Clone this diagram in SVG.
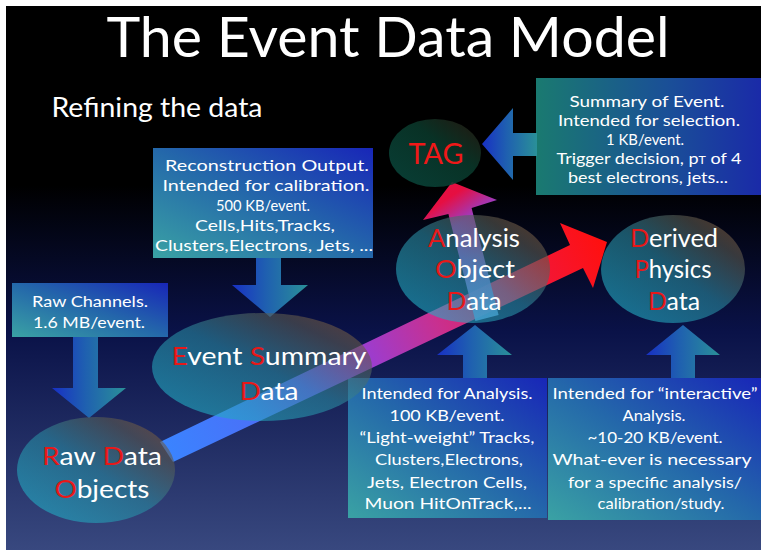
<svg xmlns="http://www.w3.org/2000/svg" width="761" height="551" viewBox="0 0 761 551">
<defs>
<linearGradient id="bg" x1="0" y1="0" x2="0" y2="1">
<stop offset="0" stop-color="#000000"/>
<stop offset="0.33" stop-color="#000000"/>
<stop offset="0.6" stop-color="#0a1248"/>
<stop offset="1" stop-color="#38487f"/>
</linearGradient>
<linearGradient id="boxGrad" x1="0" y1="1" x2="1" y2="0">
<stop offset="0" stop-color="#3aa2a4"/>
<stop offset="0.5" stop-color="#2468aa"/>
<stop offset="1" stop-color="#1826b8"/>
</linearGradient>
<linearGradient id="tagBoxGrad" x1="0" y1="0.5" x2="1" y2="0.5">
<stop offset="0" stop-color="#1a7a70"/>
<stop offset="0.6" stop-color="#1a4e98"/>
<stop offset="1" stop-color="#1a2aa8"/>
</linearGradient>
<linearGradient id="arrGrad" x1="0" y1="0.5" x2="1" y2="0.5">
<stop offset="0" stop-color="#1830c4"/>
<stop offset="0.45" stop-color="#1f60b0"/>
<stop offset="1" stop-color="#2a9098"/>
</linearGradient>
<linearGradient id="ellGrad" x1="0" y1="1" x2="1" y2="0">
<stop offset="0" stop-color="#20bad2"/>
<stop offset="0.5" stop-color="#2a8aa0"/>
<stop offset="0.78" stop-color="#5a5a50"/>
<stop offset="1" stop-color="#9a5a30"/>
</linearGradient>
<linearGradient id="tagEll" x1="0" y1="1" x2="1" y2="0">
<stop offset="0" stop-color="#0a4a40"/>
<stop offset="0.6" stop-color="#0a3a2c"/>
<stop offset="1" stop-color="#2a1a10"/>
</linearGradient>
<linearGradient id="bigGrad" gradientUnits="userSpaceOnUse" x1="166" y1="452" x2="600" y2="240">
<stop offset="0" stop-color="#3a84ff"/>
<stop offset="0.2" stop-color="#4a70f8"/>
<stop offset="0.32" stop-color="#6a50f0"/>
<stop offset="0.42" stop-color="#9040e0"/>
<stop offset="0.62" stop-color="#c83090"/>
<stop offset="0.82" stop-color="#f01840"/>
<stop offset="1" stop-color="#ff1010"/>
</linearGradient>
<linearGradient id="tagArrGrad" gradientUnits="userSpaceOnUse" x1="500" y1="320" x2="425" y2="205">
<stop offset="0" stop-color="#60a8f0"/>
<stop offset="0.55" stop-color="#a050d0"/>
<stop offset="0.75" stop-color="#b040d0"/>
<stop offset="0.95" stop-color="#ff1048"/>
</linearGradient>
<style>
.box{fill:url(#boxGrad)}
.arr{fill:url(#arrGrad)}
.ell{fill:url(#ellGrad);fill-opacity:0.6}
.bt{font-family:Lato,"Open Sans","Liberation Sans",sans-serif;font-size:16px;fill:#ffffff;text-anchor:middle}
.et{font-family:Lato,"Open Sans","Liberation Sans",sans-serif;font-size:25.5px;fill:#ffffff;text-anchor:middle}
.r{fill:#e81818}
</style>
</defs>
<rect x="0" y="0" width="761" height="551" fill="#ffffff"/>
<rect x="6" y="6" width="755" height="544" fill="url(#bg)"/>
<g id="title">
<text x="388" y="57" font-family="Lato,'Open Sans','Liberation Sans',sans-serif" font-size="57" fill="#ffffff" text-anchor="middle" textLength="563" lengthAdjust="spacingAndGlyphs">The Event Data Model</text>
<text x="157" y="117" font-family="Lato,'Open Sans','Liberation Sans',sans-serif" font-size="26" fill="#ffffff" text-anchor="middle" textLength="211" lengthAdjust="spacingAndGlyphs">Refining the data</text>
</g>
<g id="box-esd">
<rect class="box" x="153" y="148" width="220" height="110"/>
<text class="bt" x="267" y="171" textLength="204" lengthAdjust="spacingAndGlyphs">Reconstruction Output.</text>
<text class="bt" x="266" y="191" textLength="207" lengthAdjust="spacingAndGlyphs">Intended for calibration.</text>
<text class="bt" x="263" y="211" textLength="94" lengthAdjust="spacingAndGlyphs">500 KB/event.</text>
<text class="bt" x="265" y="231" textLength="140" lengthAdjust="spacingAndGlyphs">Cells,Hits,Tracks,</text>
<text class="bt" x="264" y="251" textLength="218" lengthAdjust="spacingAndGlyphs">Clusters,Electrons, Jets, ...</text>
</g>
<g id="box-raw">
<rect class="box" x="12" y="283" width="156" height="54"/>
<text class="bt" x="90" y="307" textLength="116" lengthAdjust="spacingAndGlyphs">Raw Channels.</text>
<text class="bt" x="89" y="328" textLength="112" lengthAdjust="spacingAndGlyphs">1.6 MB/event.</text>
</g>
<g id="box-tag">
<rect x="536" y="78" width="225" height="117" fill="url(#tagBoxGrad)"/>
<text class="bt" x="647" y="107" textLength="155" lengthAdjust="spacingAndGlyphs">Summary of Event.</text>
<text class="bt" x="649" y="126" textLength="182" lengthAdjust="spacingAndGlyphs">Intended for selection.</text>
<text class="bt" x="645" y="145" textLength="78" lengthAdjust="spacingAndGlyphs">1 KB/event.</text>
<text class="bt" x="649" y="164" textLength="185" lengthAdjust="spacingAndGlyphs">Trigger decision, p<tspan font-size="11">T</tspan> of 4</text>
<text class="bt" x="648" y="183" textLength="160" lengthAdjust="spacingAndGlyphs">best electrons, jets...</text>
</g>
<g id="box-aod">
<rect class="box" x="348" y="378" width="199" height="140"/>
<text class="bt" x="447" y="399" textLength="171" lengthAdjust="spacingAndGlyphs">Intended for Analysis.</text>
<text class="bt" x="447" y="421" textLength="115" lengthAdjust="spacingAndGlyphs">100 KB/event.</text>
<text class="bt" x="447" y="443" textLength="175" lengthAdjust="spacingAndGlyphs">“Light-weight” Tracks,</text>
<text class="bt" x="449" y="465" textLength="148" lengthAdjust="spacingAndGlyphs">Clusters,Electrons,</text>
<text class="bt" x="447" y="488" textLength="160" lengthAdjust="spacingAndGlyphs">Jets, Electron Cells,</text>
<text class="bt" x="448" y="509" textLength="167" lengthAdjust="spacingAndGlyphs">Muon HitOnTrack,...</text>
</g>
<g id="box-dpd">
<rect class="box" x="548" y="378" width="213" height="142"/>
<text class="bt" x="655" y="399" textLength="205" lengthAdjust="spacingAndGlyphs">Intended for “interactive”</text>
<text class="bt" x="654" y="421" textLength="63" lengthAdjust="spacingAndGlyphs">Analysis.</text>
<text class="bt" x="655" y="443" textLength="135" lengthAdjust="spacingAndGlyphs">~10-20 KB/event.</text>
<text class="bt" x="652" y="465" textLength="199" lengthAdjust="spacingAndGlyphs">What-ever is necessary</text>
<text class="bt" x="655" y="488" textLength="174" lengthAdjust="spacingAndGlyphs">for a specific analysis/</text>
<text class="bt" x="661" y="509" textLength="127" lengthAdjust="spacingAndGlyphs">calibration/study.</text>
</g>
<g id="connectors">
<polygon class="arr" points="73,337 98,337 98,388 126,388 89,418 52,388 73,388"/>
<polygon class="arr" points="256,258 281,258 281,285 308,285 270,317 232,285 256,285"/>
<polygon class="arr" points="463,378 487,378 487,355 512,355 475,325 437,355 463,355"/>
<polygon class="arr" points="671,378 695,378 695,355 720,355 683,325 646,355 671,355"/>
<polygon class="arr" points="537,133 513,133 513,108 482,144 513,180 513,156 537,156"/>
<polygon fill="url(#bigGrad)" points="160,442 570,245 560,223 607,242 593,288 583,268 173,462"/>
<polygon fill="url(#tagArrGrad)" fill-opacity="0.9" points="423,220 452,182 497,200 471.6,208.1 498.6,315.1 475.4,320.9 448.4,213.9"/>
</g>
<g id="node-tag">
<ellipse cx="435" cy="153" rx="46" ry="34" fill="url(#tagEll)" fill-opacity="0.85"/>
<text x="436" y="164" font-family="Lato,'Open Sans','Liberation Sans',sans-serif" font-size="29" fill="#f01818" text-anchor="middle" textLength="55" lengthAdjust="spacingAndGlyphs">TAG</text>
</g>
<g id="node-aod">
<ellipse class="ell" cx="473" cy="269" rx="77" ry="54"/>
<text class="et" x="474" y="247" textLength="92" lengthAdjust="spacingAndGlyphs"><tspan class="r">A</tspan>nalysis</text>
<text class="et" x="475" y="278" textLength="80" lengthAdjust="spacingAndGlyphs"><tspan class="r">O</tspan>bject</text>
<text class="et" x="474" y="310" textLength="55" lengthAdjust="spacingAndGlyphs"><tspan class="r">D</tspan>ata</text>
</g>
<g id="node-dpd">
<ellipse class="ell" cx="673" cy="269" rx="72" ry="54"/>
<text class="et" x="674" y="247" textLength="88" lengthAdjust="spacingAndGlyphs"><tspan class="r">D</tspan>erived</text>
<text class="et" x="673" y="278" textLength="77" lengthAdjust="spacingAndGlyphs"><tspan class="r">P</tspan>hysics</text>
<text class="et" x="674" y="310" textLength="52" lengthAdjust="spacingAndGlyphs"><tspan class="r">D</tspan>ata</text>
</g>
<g id="node-esd">
<ellipse class="ell" cx="262" cy="367" rx="110" ry="54"/>
<text class="et" x="269" y="365" textLength="195" lengthAdjust="spacingAndGlyphs"><tspan class="r">E</tspan>vent <tspan class="r">S</tspan>ummary</text>
<text class="et" x="269" y="400" textLength="59" lengthAdjust="spacingAndGlyphs"><tspan class="r">D</tspan>ata</text>
</g>
<g id="node-rdo">
<ellipse class="ell" cx="96" cy="470" rx="79" ry="53"/>
<text class="et" x="102" y="465" textLength="120" lengthAdjust="spacingAndGlyphs"><tspan class="r">R</tspan>aw <tspan class="r">D</tspan>ata</text>
<text class="et" x="102" y="498" textLength="95" lengthAdjust="spacingAndGlyphs"><tspan class="r">O</tspan>bjects</text>
</g>
</svg>
